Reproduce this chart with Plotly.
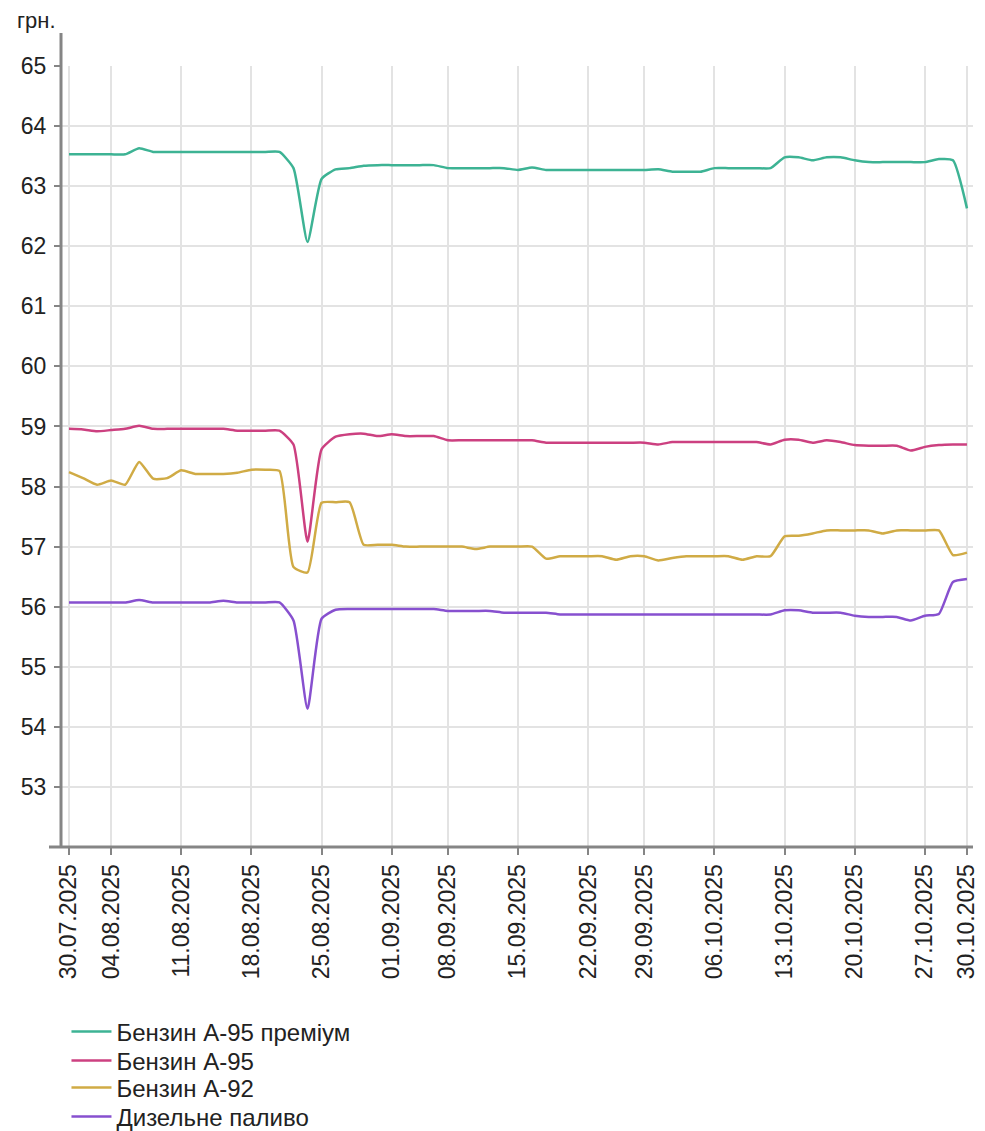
import pandas as pd
import plotly.graph_objects as go

# ---- categories (trading days shown on the chart) ----
missing_days = ["2025-09-05", "2025-09-26"]
days = [d for d in pd.bdate_range("2025-07-30", "2025-10-30") if d.strftime("%Y-%m-%d") not in missing_days]
dates = [d.strftime("%d.%m.%Y") for d in days]

tick_labels = ["30.07.2025", "04.08.2025", "11.08.2025", "18.08.2025", "25.08.2025",
               "01.09.2025", "08.09.2025", "15.09.2025", "22.09.2025", "29.09.2025",
               "06.10.2025", "13.10.2025", "20.10.2025", "27.10.2025", "30.10.2025"]

y_ticks = list(range(53, 66))

# ---- series values (грн.) ----
a95_premium = [63.53, 63.53, 63.53, 63.53, 63.53, 63.63, 63.57, 63.57, 63.57, 63.57,
               63.57, 63.57, 63.57, 63.57, 63.57, 63.57, 63.30, 62.07, 63.12, 63.28,
               63.30, 63.34, 63.35, 63.35, 63.35, 63.35, 63.35, 63.30, 63.30, 63.30,
               63.30, 63.30, 63.27, 63.31, 63.27, 63.27, 63.27, 63.27, 63.27, 63.27,
               63.27, 63.27, 63.28, 63.24, 63.24, 63.24, 63.30, 63.30, 63.30, 63.30,
               63.30, 63.48, 63.48, 63.43, 63.48, 63.48, 63.43, 63.40, 63.40, 63.40,
               63.40, 63.40, 63.45, 63.43, 62.63]

a95 = [58.96, 58.95, 58.92, 58.94, 58.96, 59.01, 58.96, 58.96, 58.96, 58.96,
       58.96, 58.96, 58.93, 58.93, 58.93, 58.93, 58.70, 57.08, 58.62, 58.83,
       58.87, 58.88, 58.84, 58.87, 58.84, 58.84, 58.84, 58.77, 58.77, 58.77,
       58.77, 58.77, 58.77, 58.77, 58.73, 58.73, 58.73, 58.73, 58.73, 58.73,
       58.73, 58.73, 58.70, 58.74, 58.74, 58.74, 58.74, 58.74, 58.74, 58.74,
       58.70, 58.78, 58.78, 58.73, 58.77, 58.74, 58.69, 58.68, 58.68, 58.68,
       58.60, 58.66, 58.69, 58.70, 58.70]

a92 = [58.24, 58.14, 58.03, 58.10, 58.03, 58.41, 58.13, 58.14, 58.27, 58.21,
       58.21, 58.21, 58.23, 58.28, 58.28, 58.26, 56.66, 56.57, 57.73, 57.74,
       57.74, 57.03, 57.03, 57.03, 57.00, 57.00, 57.00, 57.00, 57.00, 56.96,
       57.00, 57.00, 57.00, 57.00, 56.80, 56.84, 56.84, 56.84, 56.84, 56.78,
       56.84, 56.84, 56.77, 56.81, 56.84, 56.84, 56.84, 56.84, 56.78, 56.84,
       56.84, 57.17, 57.18, 57.22, 57.27, 57.27, 57.27, 57.27, 57.22, 57.27,
       57.27, 57.27, 57.27, 56.86, 56.90]

diesel = [56.07, 56.07, 56.07, 56.07, 56.07, 56.11, 56.07, 56.07, 56.07, 56.07,
          56.07, 56.10, 56.07, 56.07, 56.07, 56.07, 55.77, 54.30, 55.80, 55.95,
          55.96, 55.96, 55.96, 55.96, 55.96, 55.96, 55.96, 55.93, 55.93, 55.93,
          55.93, 55.90, 55.90, 55.90, 55.90, 55.87, 55.87, 55.87, 55.87, 55.87,
          55.87, 55.87, 55.87, 55.87, 55.87, 55.87, 55.87, 55.87, 55.87, 55.87,
          55.87, 55.94, 55.94, 55.90, 55.90, 55.90, 55.85, 55.83, 55.83, 55.83,
          55.77, 55.85, 55.88, 56.41, 56.46]

series_names = ["Бензин А-95 преміум", "Бензин А-95", "Бензин А-92", "Дизельне паливо"]
series_values = [a95_premium, a95, a92, diesel]
series_colors = ["#3db394", "#cc4080", "#d0ab45", "#8750cf"]

FONT = "Arial, Liberation Sans, sans-serif"
AXIS = "#858585"
GRID = "#e3e3e3"
TXT = "#222222"

# page is offset by the browser's 8px body margin
W, H = 977, 1123
ML, MR, MT, MB = 53, 12, 58, 284
plot_h = H - MT - MB

legend_keys = ["legend", "legend2", "legend3", "legend4"]
legend_rows_px = [1024, 1053, 1080, 1109]  # row centres, figure px

fig = go.Figure()
for name, vals, col, lk in zip(series_names, series_values, series_colors, legend_keys):
    fig.add_trace(go.Scatter(
        x=dates, y=vals, name=name, mode="lines",
        line=dict(color=col, width=2.5, shape="spline", smoothing=0.5),
        legend=lk,
    ))

legend_layout = {}
for lk, row in zip(legend_keys, legend_rows_px):
    legend_layout[lk] = dict(
        orientation="v", x=0.006, xanchor="left",
        y=(H - MB - row) / plot_h, yanchor="middle",
        font=dict(family=FONT, size=24, color=TXT),
        bgcolor="rgba(0,0,0,0)", itemwidth=40,
    )

fig.update_layout(
    width=W, height=H,
    margin=dict(l=ML, r=MR, t=MT, b=MB, autoexpand=False),
    paper_bgcolor="white", plot_bgcolor="white",
    font=dict(family=FONT, size=23, color=TXT),
    showlegend=True,
    xaxis=dict(
        type="category", categoryorder="array", categoryarray=dates,
        range=[-0.57, len(dates) - 1 + 0.43],
        tickmode="array", tickvals=tick_labels, ticktext=tick_labels,
        tickangle=-90, ticks="outside", ticklen=7, tickwidth=2, tickcolor=AXIS,
        showgrid=True, gridcolor=GRID, gridwidth=2,
        showline=False, zeroline=False,
        tickfont=dict(family=FONT, size=23, color=TXT),
    ),
    yaxis=dict(
        range=[52, 65], tickmode="array", tickvals=y_ticks,
        ticktext=[str(v) for v in y_ticks],
        ticks="outside", ticklen=6, tickwidth=2, tickcolor=AXIS,
        ticklabelstandoff=3,
        showgrid=True, gridcolor=GRID, gridwidth=2,
        showline=False, zeroline=False,
        tickfont=dict(family=FONT, size=23, color=TXT),
    ),
    shapes=[
        dict(type="line", xref="paper", yref="paper", x0=0, x1=0, y0=0, y1=1 + 33 / plot_h,
             line=dict(color=AXIS, width=3), layer="above"),
        dict(type="line", xref="paper", yref="paper", x0=-12 / (W - ML - MR), x1=1, y0=0, y1=0,
             line=dict(color=AXIS, width=3), layer="above"),
    ],
    annotations=[
        dict(text="грн.", xref="paper", yref="paper", x=-46 / (W - ML - MR), y=1 + 46 / plot_h,
             xanchor="left", yanchor="middle", showarrow=False,
             font=dict(family=FONT, size=22, color=TXT)),
    ],
    **legend_layout,
)

fig.write_html("out.html")
